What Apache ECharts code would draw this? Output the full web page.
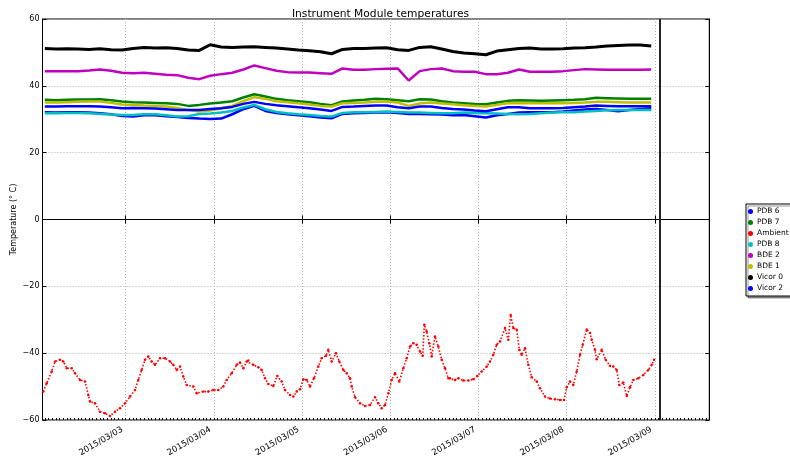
<!DOCTYPE html>
<html><head><meta charset="utf-8">
<script src="https://cdn.jsdelivr.net/npm/echarts@6/dist/echarts.min.js"></script>
<style>html,body{margin:0;padding:0;background:#fff}#c{width:790px;height:458px}</style>
</head><body><div id="c"></div>
<script>
// hours since 2015/03/02 00:00
const hours = [2,5,8,11,14,17,20,23,26,29,32,35,38,41,44,47,50,53,56,59,62,65,68,71,74,77,80,83,86,89,92,95,98,101,104,107,110,113,116,119,122,125,128,131,134,137,140,143,146,149,152,155,158,161,164,167];

const vicor0 = [51.2,51.0,51.1,51.0,50.9,51.1,50.8,50.7,51.2,51.5,
  51.3,51.4,51.2,50.7,50.6,52.3,51.6,51.5,51.6,51.7,
  51.5,51.3,51.0,50.7,50.5,50.2,49.6,50.9,51.2,51.2,
  51.3,51.4,50.8,50.6,51.5,51.7,51.0,50.3,49.8,49.6,
  49.3,50.4,50.8,51.2,51.3,51.0,51.0,51.1,51.3,51.4,
  51.6,51.9,52.1,52.2,52.2,51.9];
const bde2 = [44.4,44.4,44.4,44.4,44.6,44.9,44.5,43.9,43.8,43.9,
  43.6,43.3,43.2,42.4,42.0,43.0,43.5,43.9,44.9,46.1,
  45.3,44.5,44.1,44.0,44.0,43.8,43.6,45.2,44.8,44.8,
  45.0,45.1,45.2,41.6,44.4,45.0,45.2,44.4,44.2,44.2,
  43.5,43.5,43.9,44.9,44.2,44.2,44.2,44.4,44.7,45.0,
  44.9,44.8,44.8,44.8,44.8,44.9];
const pdb7 = [35.8,35.7,35.8,35.9,35.9,36.0,35.7,35.3,35.1,35.0,
  34.9,34.8,34.6,34.0,34.3,34.7,35.0,35.4,36.5,37.5,
  36.8,36.1,35.7,35.4,35.1,34.6,34.2,35.3,35.6,35.8,
  36.1,36.0,35.7,35.4,36.0,35.9,35.4,35.0,34.8,34.6,
  34.5,35.0,35.5,35.7,35.6,35.5,35.6,35.7,35.8,36.0,
  36.4,36.3,36.2,36.1,36.1,36.1];
const bde1 = [35.0,35.0,35.1,35.2,35.3,35.3,34.9,34.4,34.3,34.1,
  34.0,33.8,33.4,32.8,32.3,32.6,33.3,34.0,35.4,36.6,
  36.1,35.4,35.1,34.8,34.4,34.0,33.8,34.8,34.9,35.0,
  35.2,35.3,35.0,34.0,34.7,35.0,34.7,34.5,34.2,34.0,
  33.8,34.3,34.8,34.9,34.8,34.8,34.8,34.8,34.9,35.0,
  35.2,35.2,35.1,35.0,35.0,35.0];
const vicor2 = [33.8,33.8,33.9,33.9,33.9,33.8,33.6,33.3,33.4,33.3,
  33.2,33.0,32.8,32.8,32.8,33.1,33.3,33.7,34.6,35.2,
  34.6,34.2,33.9,33.6,33.3,32.9,32.5,33.7,33.8,34.0,
  34.1,34.1,33.6,33.3,33.8,33.8,33.4,33.1,32.9,32.6,
  32.4,33.0,33.6,33.6,33.3,33.3,33.3,33.4,33.6,33.8,
  34.1,34.0,33.9,33.9,33.9,33.9];
const pdb8 = [31.8,31.8,31.9,31.9,31.8,31.6,31.4,31.3,31.3,31.5,
  31.5,31.2,30.8,30.9,31.6,31.7,32.0,32.5,33.5,34.3,
  33.0,32.2,31.8,31.5,31.3,31.0,30.8,31.9,32.1,32.1,
  32.2,32.3,32.2,32.0,32.0,31.9,31.8,31.8,32.0,31.9,
  31.8,31.7,31.6,31.5,31.6,31.8,32.0,32.1,32.1,32.3,
  32.5,32.7,32.8,32.8,32.8,32.8];
const pdb6 = [32.1,32.0,32.1,32.1,32.0,31.8,31.5,31.0,30.8,31.2,
  31.2,30.9,30.7,30.4,30.2,30.1,30.2,31.5,33.0,34.0,
  32.5,31.9,31.5,31.2,30.9,30.5,30.3,31.6,31.8,31.9,
  32.0,32.1,31.9,31.6,31.6,31.5,31.4,31.2,31.3,30.9,
  30.5,31.2,31.6,32.0,32.1,32.1,32.1,32.3,32.6,32.9,
  33.1,32.8,32.4,32.8,33.1,33.3];

const ambientHours = [1.58,2.5,3.86,4.76,6.12,7.02,7.95,9.31,10.2,11.56,12.93,13.82,14.29,15.65,17.0,18.37,19.73,21.09,22.45,23.81,
  25.17,26.53,27.43,28.35,29.25,30.15,31.07,31.97,33.33,34.69,36.05,36.95,37.88,38.78,39.67,40.6,42.4,43.32,45.12,46.48,
  47.84,49.2,50.56,51.48,52.84,54.2,55.1,56.0,56.93,57.36,58.72,60.08,61.01,61.9,62.8,64.16,65.25,66.45,67.35,68.71,
  69.61,70.53,71.43,72.33,73.25,74.15,75.24,76.41,77.33,78.5,79.13,80.05,81.22,82.12,83.21,84.14,85.03,85.5,86.4,87.76,
  89.12,90.48,91.84,92.73,93.66,94.56,95.46,96.38,97.28,98.45,99.54,100.46,101.36,102.26,103.18,104.08,104.82,105.25,105.9,106.61,
  107.27,108.16,109.06,109.99,110.88,111.78,112.24,113.6,114.5,115.86,117.22,118.59,119.67,120.87,122.23,123.13,124.03,124.95,125.85,127.21,
  128.11,128.76,129.47,130.39,131.1,131.75,132.65,133.55,134.48,135.84,136.73,138.1,139.46,140.82,142.18,143.27,144.0,144.9,145.8,146.72,
  147.62,148.35,149.44,150.34,150.8,151.7,152.16,153.52,154.61,155.78,156.68,157.6,158.31,159.4,160.33,161.22,162.12,163.48,164.84,166.2,
  167.13,167.76];
const ambientTemps = [-51.5,-49.0,-45.5,-42.5,-42,-42.5,-44.5,-44.5,-46,-48,-48.5,-52.5,-54.5,-55,-57.5,-58,-58.8,-57.5,-56.5,-55,
  -53,-51,-48,-45,-42,-41,-42.5,-43.5,-41.5,-41.5,-42.5,-43.5,-45,-44,-47,-49.5,-50,-52,-51.5,-51.5,
  -51,-51,-50,-48,-46,-43.5,-42.8,-44.5,-42.5,-42.2,-43.5,-44.2,-45,-47.5,-49.2,-49.8,-46.8,-48.5,-51,-52.5,
  -53,-51.5,-50.8,-47.8,-48,-50,-47.5,-44,-41.5,-40.8,-39,-42.5,-40,-42.5,-45,-46,-47.5,-50,-53.2,-55,
  -55.8,-55.5,-53.2,-55,-56.5,-55.5,-52,-48,-46,-48.5,-44.5,-41.5,-38,-37,-37.5,-39.5,-40.8,-31.5,-33.5,-37,
  -41,-35,-38,-42,-44.5,-47.5,-47.5,-48,-47.5,-48.2,-48.2,-47.8,-46.8,-45.5,-44,-42.5,-40.5,-37.5,-36.5,-32.5,
  -36,-28.6,-32.5,-33,-39,-40.5,-38.5,-43.5,-47.2,-48.5,-50.5,-53,-53.6,-53.8,-54,-54,-50.2,-48.5,-49.5,-45.5,
  -40.5,-37.5,-32.9,-34,-36,-39,-41.8,-39,-42,-43.8,-44,-45,-49.5,-48.8,-52.8,-50.2,-48,-47.5,-46.5,-45,
  -43.5,-42];

const dayTicks = [24,48,72,96,120,144,168];
const dayLabels = ['2015/03/03','2015/03/04','2015/03/05','2015/03/06','2015/03/07','2015/03/08','2015/03/09'];
const yTicks = [-60,-40,-20,0,20,40,60];
const markerHour = 169.2;
const xMin = 1.36, xMax = 182.8;
// hourly minor tick positions along the bottom edge
const hourTicks = [];
for (let h = 2; h <= 182; h++) hourTicks.push(h);

const names = ['PDB 6','PDB 7','Ambient','PDB 8','BDE 2','BDE 1','Vicor 0','Vicor 2'];
const colors = ['#0000ff','#008000','#ff0000','#00bfbf','#bf00bf','#bfbf00','#000000','#0000ff'];
const lineSeries = {'PDB 6':pdb6,'PDB 7':pdb7,'PDB 8':pdb8,'BDE 2':bde2,'BDE 1':bde1,'Vicor 0':vicor0,'Vicor 2':vicor2};

const FONT = 'DejaVu Sans';
const series = names.map((n,i) => {
  if (n === 'Ambient') {
    return {
      name: n, type: 'line', symbol: 'circle', symbolSize: 2.5, showSymbol: true, showAllSymbol: true,
      itemStyle: {color: colors[i]},
      lineStyle: {color: colors[i], width: 1.6, type: [1.5, 1.8]},
      data: ambientHours.map((h,k) => [h, ambientTemps[k]]),
      markLine: {
        silent: true, symbol: ['none','none'], label: {show: false},
        lineStyle: {color: '#222', width: 2, type: 'solid'},
        data: [{xAxis: markerHour}]
      }
    };
  }
  const arr = lineSeries[n];
  return {
    name: n, type: 'line', showSymbol: false, symbol: 'circle',
    lineStyle: {color: colors[i], width: n === 'Vicor 0' ? 3 : 2.5},
    itemStyle: {color: colors[i]},
    data: hours.map((h,k) => [h, arr[k]])
  };
});

const chart = echarts.init(document.getElementById('c'), null, {renderer: 'canvas'});
chart.setOption({
  animation: false,
  backgroundColor: '#fff',
  title: {
    text: 'Instrument Module temperatures', left: 375.5, top: 4, textAlign: 'center',
    textStyle: {fontFamily: FONT, fontSize: 10.7, fontWeight: 'normal', color: '#000'}
  },
  grid: {left: 42.5, right: 80.7, top: 19, bottom: 38, show: true, borderColor: '#000', borderWidth: 1,
    containLabel: false, outerBoundsMode: 'none'},
  legend: {
    orient: 'vertical', left: 746, top: 204,
    padding: [2, 40, 2, 2], itemGap: 0, itemWidth: 5, itemHeight: 5,
    borderColor: '#000', borderWidth: 1, backgroundColor: '#fff',
    shadowColor: 'rgba(0,0,0,0.4)', shadowOffsetX: 2, shadowOffsetY: 2, shadowBlur: 0,
    icon: 'circle',
    textStyle: {fontFamily: FONT, fontSize: 7.5, color: '#000', lineHeight: 11, padding: [0,0,0,-1]},
    data: names.map((n,i) => ({name: n, itemStyle: {color: colors[i]}}))
  },
  xAxis: [{
    type: 'value', min: xMin, max: xMax, position: 'bottom',
    axisLine: {show: true, lineStyle: {color: '#000'}},
    axisTick: {show: true, inside: true, length: 4, customValues: dayTicks, lineStyle: {color: '#000'}},
    axisLabel: {
      customValues: dayTicks, rotate: 30, fontFamily: FONT, fontSize: 8.5, color: '#000', margin: 7,
      padding: [0, 4, 0, 0],
      formatter: v => dayLabels[dayTicks.indexOf(Math.round(v))] || ''
    },
    splitLine: {show: true, lineStyle: {color: '#b0b0b0', type: [1, 2], width: 1}}
  }, {
    type: 'value', min: xMin, max: xMax, position: 'top',
    axisLine: {show: true, lineStyle: {color: '#000'}},
    axisTick: {show: true, inside: true, length: 4, customValues: dayTicks, lineStyle: {color: '#000'}},
    axisLabel: {show: false}, splitLine: {show: false}
  }, {
    type: 'value', min: xMin, max: xMax, position: 'bottom', offset: 0,
    axisLine: {show: false},
    axisTick: {show: true, inside: true, length: 2, customValues: hourTicks, lineStyle: {color: '#000'}},
    axisLabel: {show: false}, splitLine: {show: false}
  }],
  yAxis: [{
    type: 'value', min: -60, max: 60, interval: 20, position: 'left',
    name: 'Temperature (° C)', nameLocation: 'middle', nameGap: 25, nameRotate: 90, nameMoveOverlap: false,
    nameTextStyle: {fontFamily: FONT, fontSize: 8, color: '#000'},
    axisLine: {show: true, lineStyle: {color: '#000'}},
    axisTick: {show: true, inside: true, length: 4, lineStyle: {color: '#000'}},
    axisLabel: {fontFamily: FONT, fontSize: 8, color: '#000', margin: 3,
      formatter: v => (v < 0 ? '\u2212' + Math.abs(v) : String(v))},
    splitLine: {show: true, lineStyle: {color: '#b0b0b0', type: [1, 2], width: 1}}
  }, {
    type: 'value', min: -60, max: 60, interval: 20, position: 'right',
    axisLine: {show: true, lineStyle: {color: '#000'}},
    axisTick: {show: true, inside: true, length: 4, lineStyle: {color: '#000'}},
    axisLabel: {show: false}, splitLine: {show: false}
  }],
  series: series
});
</script>
</body></html>
